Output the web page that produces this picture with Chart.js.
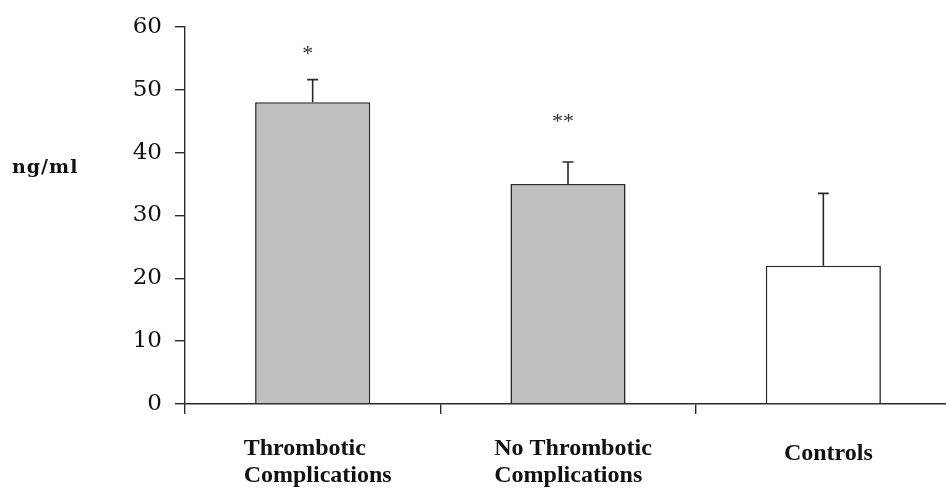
<!DOCTYPE html>
<html>
<head>
<meta charset="utf-8">
<script src="https://cdn.jsdelivr.net/npm/chart.js@4.4.0/dist/chart.umd.min.js"></script>
<style>
html, body { margin: 0; padding: 0; background: #fff; overflow: hidden; }
</style>
</head>
<body>
<canvas id="barChart" width="951" height="490"></canvas>
<script>
// dados
var categorias = [['Thrombotic', 'Complications'], ['No Thrombotic', 'Complications'], ['Controls']];
var medias = [48, 35, 22];
var erros = [3.6, 3.5, 11.5];
var asteriscos = ['*', '**', ''];
var nivelAsterisco = [55.6, 44.8, null];
var yTicks = [0, 10, 20, 30, 40, 50, 60];
var unidade = 'ng/ml';

var extras = {
    id: 'extras',
    afterDatasetsDraw: function (chart) {
        var ctx = chart.ctx;
        var y = chart.scales.y;
        var meta = chart.getDatasetMeta(0);
        ctx.save();
        ctx.strokeStyle = '#2a2a2a';
        ctx.lineWidth = 1.6;
        for (var i = 0; i < medias.length; i++) {
            var bx = meta.data[i].x;
            var topo = y.getPixelForValue(medias[i]);
            var fim = y.getPixelForValue(medias[i] + erros[i]);
            ctx.beginPath();
            ctx.moveTo(bx, topo);
            ctx.lineTo(bx, fim);
            ctx.moveTo(bx - 5.5, fim);
            ctx.lineTo(bx + 5.5, fim);
            ctx.stroke();
            if (asteriscos[i]) {
                ctx.fillStyle = '#333';
                ctx.font = '22px "Liberation Serif"';
                ctx.textAlign = 'center';
                ctx.textBaseline = 'middle';
                ctx.fillText(asteriscos[i], bx - 5, y.getPixelForValue(nivelAsterisco[i]));
            }
        }
        ctx.restore();
    },
    afterDraw: function (chart) {
        var ctx = chart.ctx;
        var x = chart.scales.x;
        var base = chart.chartArea.bottom;
        ctx.save();
        ctx.fillStyle = '#111';
        ctx.font = 'bold 24px "Liberation Serif"';
        ctx.textAlign = 'left';
        ctx.textBaseline = 'alphabetic';
        for (var i = 0; i < categorias.length; i++) {
            var linhas = categorias[i];
            var larg = 0;
            for (var k = 0; k < linhas.length; k++) {
                larg = Math.max(larg, ctx.measureText(linhas[k]).width);
            }
            var x0 = x.getPixelForValue(i) + 5 - larg / 2;
            if (linhas.length === 1) {
                ctx.fillText(linhas[0], x0, base + 56);
            } else {
                for (var k = 0; k < linhas.length; k++) {
                    ctx.fillText(linhas[k], x0, base + 51 + k * 27);
                }
            }
        }
        // unidade do eixo y
        ctx.font = 'bold 19px "DejaVu Serif"';
        ctx.letterSpacing = '1px';
        ctx.fillText(unidade, 12, 173);
        ctx.restore();
    }
};

var barCtx = document.getElementById('barChart').getContext('2d');

var barChart = new Chart(barCtx, {
    type: 'bar',
    data: {
        labels: categorias.map(function (c) { return c.join(' '); }),
        datasets: [{
            data: medias,
            backgroundColor: ['#c0c0c0', '#c0c0c0', '#ffffff'],
            borderColor: '#2a2a2a',
            borderWidth: 1.6,
            barPercentage: 0.451,
            categoryPercentage: 1
        }]
    },
    options: {
        responsive: false,
        animation: false,
        layout: { padding: { top: 23, right: 0, left: 0, bottom: 0 } },
        plugins: {
            legend: { display: false },
            tooltip: { enabled: false }
        },
        scales: {
            x: {
                grid: { drawOnChartArea: false, drawTicks: true, tickLength: 10, color: '#2a2a2a', lineWidth: 1.4, offset: true },
                border: { color: '#2a2a2a', width: 1.4 },
                ticks: { display: false },
                afterFit: function (s) { s.height = 86; }
            },
            y: {
                min: 0,
                max: 60,
                afterBuildTicks: function (s) {
                    s.ticks = yTicks.map(function (v) { return { value: v }; });
                },
                grid: { drawOnChartArea: false, drawTicks: true, tickLength: 10, color: '#2a2a2a', lineWidth: 1.4 },
                border: { color: '#2a2a2a', width: 1.4 },
                ticks: { font: { family: 'DejaVu Serif', size: 23 }, color: '#111', padding: 13 },
                afterFit: function (s) { s.width = 185; }
            }
        }
    },
    plugins: [extras]
});
</script>
</body>
</html>
